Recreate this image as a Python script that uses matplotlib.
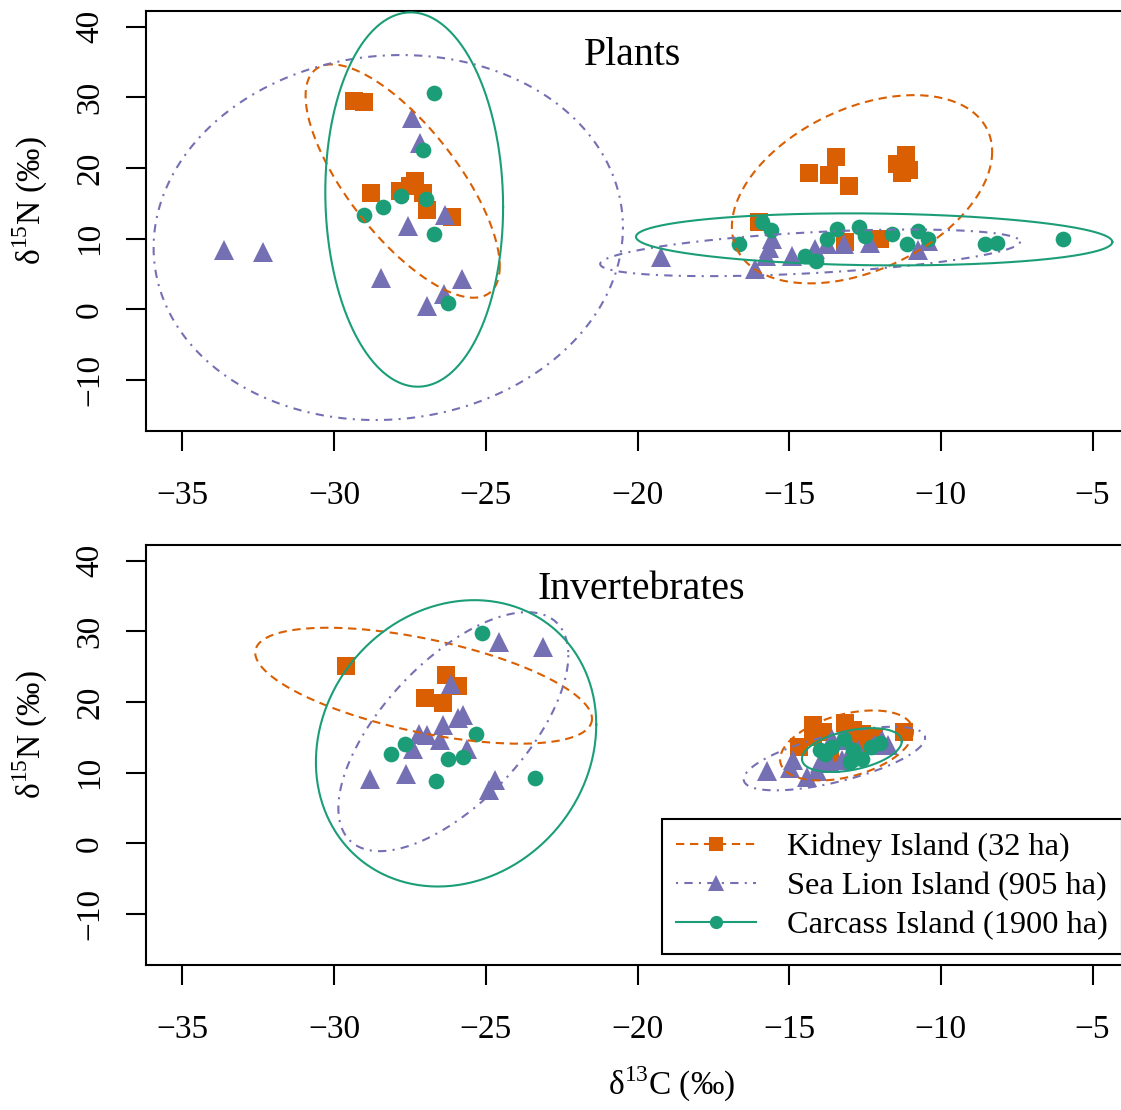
import numpy as np
import matplotlib
matplotlib.use('Agg')
import matplotlib.pyplot as plt
from matplotlib.lines import Line2D

plt.rcParams['font.family'] = ['Liberation Serif', 'DejaVu Serif']
plt.rcParams['mathtext.fontset'] = 'custom'
plt.rcParams['mathtext.rm'] = 'Liberation Serif'

# ---------------- data ----------------
islands = ['Kidney Island (32 ha)', 'Sea Lion Island (905 ha)', 'Carcass Island (1900 ha)']
colors = ['#D95F02', '#7570B3', '#1B9E77']
markers = ['s', '^', 'o']
panel_titles = ['Plants', 'Invertebrates']
x_ticks = [-35, -30, -25, -20, -15, -10, -5]
y_ticks = [-10, 0, 10, 20, 30, 40]

# Plants
kidney_plants_x = [-29.36, -29.0, -28.8, -27.84, -27.51, -27.32, -27.07, -26.94, -26.11,
                   -14.36, -13.68, -13.45, -13.02, -11.45, -11.29, -11.14, -11.04, -16.0, -13.15, -12.02]
kidney_plants_y = [29.5, 29.4, 16.4, 16.7, 17.5, 18.1, 16.4, 14.1, 13.0,
                   19.3, 18.95, 21.6, 17.5, 20.5, 19.3, 21.9, 19.7, 12.35, 9.5, 10.0]
sealion_plants_x = [-33.64, -32.35, -28.44, -27.56, -27.43, -27.18, -26.94, -26.39, -26.33, -25.78,
                    -19.22, -16.12, -15.77, -15.68, -15.57, -14.91, -14.14, -13.74, -13.19, -12.33, -10.77, -10.41]
sealion_plants_y = [8.4, 8.1, 4.5, 11.8, 27.0, 23.6, 0.47, 2.12, 13.4, 4.24,
                    7.4, 5.66, 7.5, 8.7, 9.9, 7.5, 8.5, 9.2, 9.2, 9.43, 8.4, 9.66]
carcass_plants_x = [-29.03, -28.4, -27.8, -27.07, -26.96, -26.72, -26.72, -26.23,
                    -16.67, -15.9, -15.59, -14.47, -14.12, -13.76, -13.43, -12.71, -12.5, -11.62,
                    -11.12, -10.74, -10.41, -8.54, -8.14, -5.98]
carcass_plants_y = [13.35, 14.5, 16.1, 22.6, 15.65, 30.55, 10.6, 0.95,
                    9.19, 12.35, 11.2, 7.55, 6.84, 9.9, 11.4, 11.7, 10.4, 10.6,
                    9.19, 11.1, 9.9, 9.19, 9.43, 9.9]

# Invertebrates
kidney_inv_x = [-29.61, -26.31, -25.93, -27.02, -26.42,
                -14.69, -14.2, -14.21, -13.65, -13.15, -12.66, -12.6, -12.22, -11.23, -12.9, -13.9]
kidney_inv_y = [25.1, 23.8, 22.3, 20.5, 19.9,
                13.6, 16.7, 15.1, 12.5, 17.0, 13.9, 15.5, 15.1, 15.8, 16.0, 15.8]
sealion_inv_x = [-24.55, -23.13, -26.14, -25.74, -25.9, -26.42, -27.21, -26.94, -26.52, -27.41,
                 -25.63, -27.62, -28.81, -24.71, -24.91,
                 -15.73, -14.97, -14.86, -14.42, -14.09, -13.98, -13.65, -13.59, -13.26, -13.1,
                 -13.05, -12.72, -12.22, -11.95, -11.73]
sealion_inv_y = [28.5, 27.8, 22.6, 18.1, 17.7, 16.7, 15.5, 15.3, 14.6, 13.4,
                 13.4, 9.87, 9.07, 9.02, 7.5,
                 10.3, 10.6, 11.75, 9.4, 10.3, 11.3, 11.3, 14.8, 11.8, 14.6,
                 12.2, 13.2, 13.9, 14.6, 13.9]
carcass_inv_x = [-25.13, -25.31, -27.65, -28.12, -26.23, -25.74, -26.63, -23.39,
                 -13.98, -13.81, -13.59, -13.2, -12.9, -12.6, -12.3, -12.0, -13.0]
carcass_inv_y = [29.7, 15.4, 14.1, 12.6, 12.0, 12.2, 8.78, 9.25,
                 13.2, 12.7, 13.6, 14.8, 13.2, 12.0, 13.6, 14.2, 11.5]

# Ellipses: centre x, centre y, half x-extent, half y-extent, tilt (cos of phase)
kidney_plants_ell = [(-27.74, 18.15, 3.2, 16.5, -0.73), (-12.6, 16.99, 4.29, 13.31, 0.40)]
sealion_plants_ell = [(-28.215, 10.16, 7.735, 25.81, 0.055), (-14.31, 8.0, 6.92, 3.3, 0.48)]
carcass_plants_ell = [(-27.36, 15.535, 2.93, 26.47, -0.04), (-12.2, 9.9, 7.85, 3.68, -0.10)]
kidney_inv_ell = [(-27.05, 22.3, 5.55, 8.2, -0.57), (-13.11, 13.85, 2.19, 4.95, 0.40)]
sealion_inv_ell = [(-26.07, 15.8, 3.79, 16.9, 0.64), (-13.51, 12.0, 2.99, 4.5, 0.65)]
carcass_inv_ell = [(-25.98, 14.15, 4.62, 20.25, 0.13), (-12.935, 13.2, 1.645, 3.1, 0.40)]

panels = [
    [(kidney_plants_x, kidney_plants_y, kidney_plants_ell),
     (sealion_plants_x, sealion_plants_y, sealion_plants_ell),
     (carcass_plants_x, carcass_plants_y, carcass_plants_ell)],
    [(kidney_inv_x, kidney_inv_y, kidney_inv_ell),
     (sealion_inv_x, sealion_inv_y, sealion_inv_ell),
     (carcass_inv_x, carcass_inv_y, carcass_inv_ell)],
]

# ---------------- styles ----------------
linestyles = [(0, (4, 2.7)), (0, (1, 3, 4, 3)), '-']
msizes = [12.5, 14, 11.3]
leg_msizes = [9.5, 11, 9.5]
title_x = [-20.15, -19.87]
TICK_FS = 24
TITLE_FS = 28.7
LEG_FS = 23.3


def ellipse_xy(cx, cy, a, b, c):
    t = np.linspace(0, 2 * np.pi, 400)
    phi = np.arccos(c)
    return cx + a * np.cos(t), cy + b * np.cos(t + phi)


W, H = 1121, 1110
fig = plt.figure(figsize=(W / 100, H / 100), dpi=100)

ax_rects = [
    (146 / W, 1 - 431 / H, (1129 - 146) / W, 420 / H),
    (146 / W, 1 - 965 / H, (1129 - 146) / W, 420 / H),
]

axes = []
for pi, rect in enumerate(ax_rects):
    ax = fig.add_axes(rect)
    axes.append(ax)
    for k in range(3):
        xs, ys, ells = panels[pi][k]
        ax.plot(xs, ys, linestyle='none', marker=markers[k], color=colors[k],
                markersize=msizes[k], markeredgewidth=0, zorder=3)
    for k in range(3):
        xs, ys, ells = panels[pi][k]
        for e in ells:
            ex, ey = ellipse_xy(*e)
            ax.plot(ex, ey, linestyle=linestyles[k], color=colors[k], lw=1.5, zorder=4)
    ax.set_xlim(-36.2, -3.8)
    ax.set_ylim(-17.2, 42.2)
    ax.set_xticks(x_ticks)
    ax.set_xticklabels(['\u2212%d' % abs(v) for v in x_ticks])
    ax.set_yticks(y_ticks)
    ax.set_yticklabels([('\u2212%d' % abs(v)) if v < 0 else str(v) for v in y_ticks])
    ax.tick_params(axis='both', direction='out', length=14.4, width=1.5,
                   labelsize=TICK_FS, colors='black')
    ax.tick_params(axis='x', pad=21)
    ax.tick_params(axis='y', pad=15, labelrotation=90)
    for lab in ax.get_yticklabels():
        lab.set_verticalalignment('center')
    for sp in ax.spines.values():
        sp.set_linewidth(1.5)
        sp.set_color('black')
    ax.text(title_x[pi], 34.5, panel_titles[pi], ha='center', va='baseline', fontsize=TITLE_FS)

# axis labels
ylab = r'δ$^{\mathregular{15}}$N (‰)'
fig.text(30 / W, 1 - 201 / H, ylab, rotation=90, ha='center', va='center', fontsize=TICK_FS)
fig.text(30 / W, 1 - 735 / H, ylab, rotation=90, ha='center', va='center', fontsize=TICK_FS)
fig.text(672 / W, 1 - 1084 / H, r'δ$^{\mathregular{13}}$C (‰)', ha='center', va='center', fontsize=TICK_FS)

# legend
handles = [Line2D([0], [0], color=colors[k], linestyle=linestyles[k], lw=1.5,
                  marker=markers[k], markersize=leg_msizes[k], markeredgewidth=0)
           for k in range(3)]
leg = axes[1].legend(handles, islands, loc='upper left',
                     bbox_to_anchor=(662 / W, 1 - 819 / H), bbox_transform=fig.transFigure,
                     borderaxespad=0, fontsize=LEG_FS, frameon=True, fancybox=False,
                     framealpha=1, edgecolor='black', handlelength=2.5, handletextpad=0.95,
                     labelspacing=0.29, borderpad=0.42, numpoints=1)
leg.get_frame().set_linewidth(1.5)

fig.savefig('out.png', dpi=100)
